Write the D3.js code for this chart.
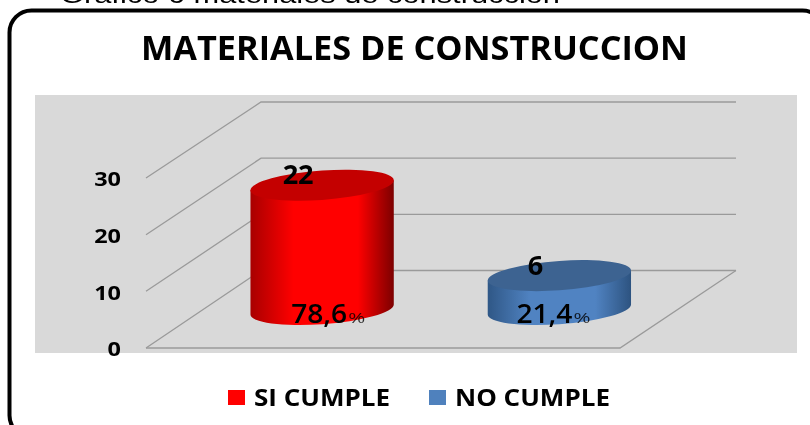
<!DOCTYPE html>
<html>
<head>
<meta charset="utf-8">
<script src="https://cdn.jsdelivr.net/npm/d3@7"></script>
<style>
  html, body { margin: 0; padding: 0; background: #fff; overflow: hidden; }
  svg { filter: blur(0.4px); }
  text { font-family: "Open Sans", sans-serif; fill: #000; }
</style>
</head>
<body>
<svg id="chart"></svg>
<script>
const categories = ["SI CUMPLE", "NO CUMPLE"];
const values = [22, 6];
const percents = ["78,6", "21,4"];
const yTicks = [0, 10, 20, 30];
const sideColors = [["#a80000", "#ff0000", "#7c0000"], ["#2f5786", "#5083c2", "#2d5380"]];
const topColors = ["#c40000", "#3d6391"];
const legendColors = ["#ff0000", "#4f81bd"];
const pctOffsets = [-31, -43];

const svgWidth = 810;
const svgHeight = 425;

const svg = d3.select("#chart")
    .attr("width", svgWidth)
    .attr("height", svgHeight);

// caption of the page above the chart, cut off by the top edge
svg.append("text")
    .text("Gráfico 6 materiales de construcción")
    .attr("x", 60)
    .attr("y", 3)
    .attr("textLength", 500)
    .attr("lengthAdjust", "spacingAndGlyphs")
    .style("font-family", '"Liberation Sans", sans-serif')
    .style("font-size", "24px");

svg.append("rect")
    .attr("x", 9.5)
    .attr("y", 10.5)
    .attr("width", 815)
    .attr("height", 427)
    .attr("rx", 22)
    .attr("fill", "#fff")
    .attr("stroke", "#000")
    .attr("stroke-width", 4);

svg.append("text")
    .text("MATERIALES DE CONSTRUCCION")
    .attr("x", 141)
    .attr("y", 60)
    .attr("textLength", 547)
    .attr("lengthAdjust", "spacingAndGlyphs")
    .style("font-size", "34px")
    .style("font-weight", 700);

svg.append("rect")
    .attr("x", 35)
    .attr("y", 95)
    .attr("width", 762)
    .attr("height", 258)
    .attr("fill", "#d9d9d9");

// the floor runs from a front edge to a back wall, both share the value scale
const yFront = d3.scaleLinear().domain([0, 30]).range([348, 178]);
const yBack = d3.scaleLinear().domain([0, 30]).range([270.5, 102]);
const yMid = d3.scaleLinear().domain([0, 30]).range([309.5, 140]);

const frontX = [146, 620];
const backX = [261, 736];

const x = d3.scaleBand()
    .domain(categories)
    .range([(frontX[0] + backX[0]) / 2, (frontX[1] + backX[1]) / 2]);

const grid = svg.append("g")
    .attr("fill", "none")
    .attr("stroke", "#9a9a9a")
    .attr("stroke-width", 1.3);

grid.selectAll(".side")
    .data(yTicks)
    .enter()
    .append("path")
    .attr("class", "side")
    .attr("d", d => `M${frontX[0]},${yFront(d)}L${backX[0]},${yBack(d)}L${backX[1]},${yBack(d)}`);

grid.append("path")
    .attr("d", `M${frontX[0]},${yFront(0)}L${frontX[1]},${yFront(0)}L${backX[1]},${yBack(0)}`);

const yAxis = svg.append("g")
    .attr("transform", "translate(121,1.5)")
    .call(d3.axisLeft(yFront).tickValues(yTicks).tickSize(0).tickPadding(0));

yAxis.select(".domain").remove();
yAxis.selectAll("text")
    .attr("textLength", d => String(d).length * 13.4)
    .attr("lengthAdjust", "spacingAndGlyphs")
    .style("font-family", '"Open Sans", sans-serif')
    .style("font-size", "20px")
    .style("font-weight", 700);

const defs = svg.append("defs");
categories.forEach((c, i) => {
    const grad = defs.append("linearGradient").attr("id", `side${i}`);
    grad.selectAll("stop")
        .data([[0, 0], [0.3, 1], [0.75, 1], [1, 2]])
        .enter()
        .append("stop")
        .attr("offset", d => d[0])
        .attr("stop-color", d => sideColors[i][d[1]]);
});

const rx = x.bandwidth() * 0.302;
const ry = 14.7;

const cylinders = svg.selectAll(".cyl")
    .data(categories)
    .enter()
    .append("g")
    .attr("class", "cyl")
    .attr("transform", c => `translate(${x(c) + x.bandwidth() / 2},${yMid(0)}) skewY(-4)`);

cylinders.append("path")
    .attr("d", (c, i) => {
        const h = yMid(0) - yMid(values[i]);
        return `M${-rx},${-h}L${-rx},0A${rx},${ry} 0 0 0 ${rx},0L${rx},${-h}Z`;
    })
    .attr("fill", (c, i) => `url(#side${i})`);

cylinders.append("ellipse")
    .attr("cx", 0)
    .attr("cy", (c, i) => yMid(values[i]) - yMid(0))
    .attr("rx", rx)
    .attr("ry", ry)
    .attr("fill", (c, i) => topColors[i]);

// value on the lid, a bit to the left of centre as in the picture
svg.selectAll(".value")
    .data(categories)
    .enter()
    .append("text")
    .attr("class", "value")
    .text((c, i) => values[i])
    .attr("x", c => x(c) + x.bandwidth() / 2 - 24)
    .attr("y", (c, i) => yMid(values[i]) - 1)
    .attr("text-anchor", "middle")
    .attr("textLength", (c, i) => String(values[i]).length * 15.5)
    .attr("lengthAdjust", "spacingAndGlyphs")
    .style("font-size", "26px")
    .style("font-weight", 700);

const pct = svg.selectAll(".pct")
    .data(categories)
    .enter()
    .append("g")
    .attr("class", "pct")
    .attr("transform", (c, i) => `translate(${x(c) + x.bandwidth() / 2 + pctOffsets[i]},322.5)`);

pct.append("text")
    .text((c, i) => percents[i])
    .attr("textLength", 56)
    .attr("lengthAdjust", "spacingAndGlyphs")
    .style("font-size", "27px")
    .style("font-weight", 600);

pct.append("text")
    .text("%")
    .attr("x", 57)
    .attr("textLength", 17)
    .attr("lengthAdjust", "spacingAndGlyphs")
    .style("font-size", "15px")
    .attr("fill-opacity", 0.8);

const legendX = d3.scaleOrdinal().domain(categories).range([228, 429]);
const legendW = d3.scaleOrdinal().domain(categories).range([136, 155]);

const legend = svg.selectAll(".legend")
    .data(categories)
    .enter()
    .append("g")
    .attr("class", "legend")
    .attr("transform", c => `translate(${legendX(c)},390)`);

legend.append("rect")
    .attr("width", 17)
    .attr("height", 15)
    .attr("fill", (c, i) => legendColors[i]);

legend.append("text")
    .text(c => c)
    .attr("x", 26)
    .attr("y", 15.5)
    .attr("textLength", c => legendW(c))
    .attr("lengthAdjust", "spacingAndGlyphs")
    .style("font-size", "23px")
    .style("font-weight", 700);
</script>
</body>
</html>
